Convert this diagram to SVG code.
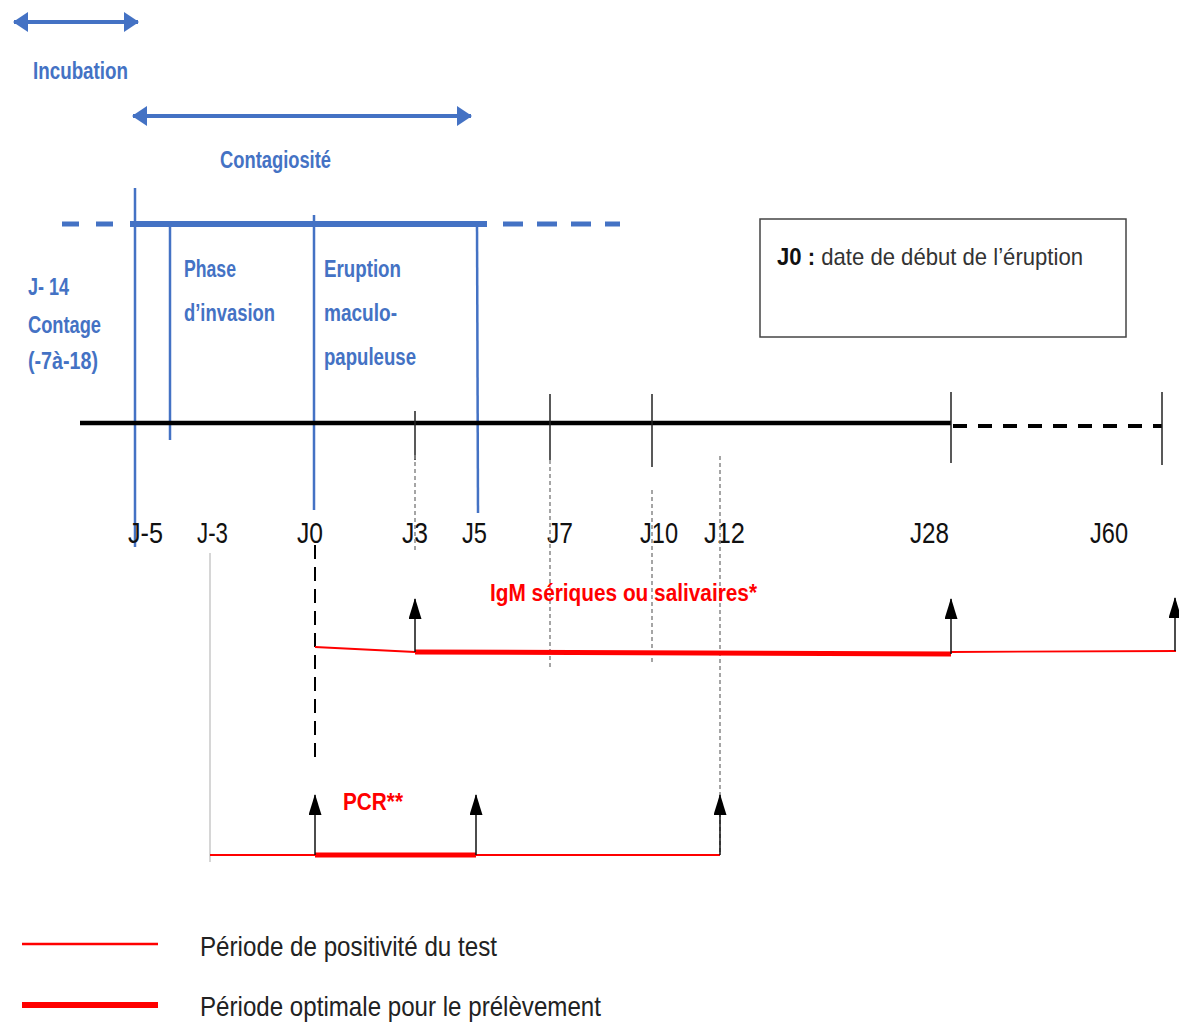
<svg xmlns="http://www.w3.org/2000/svg" width="1179" height="1025" viewBox="0 0 1179 1025">
<defs>
<style>
.blue{fill:#4472C4;font-family:"Liberation Sans",Arial,sans-serif;font-weight:bold;font-size:23px}
.ax{fill:#111;font-family:"Liberation Sans",Arial,sans-serif;font-size:30px}
.red{fill:#FF0000;font-family:"Liberation Sans",Arial,sans-serif;font-weight:bold;font-size:23px}
.leg{fill:#222;font-family:"Liberation Sans",Arial,sans-serif;font-size:28px}
.box{fill:#333;font-family:"Liberation Sans",Arial,sans-serif;font-size:24px}
.bl{stroke:#4472C4;fill:none}
.tick{stroke:#222;stroke-width:1.5}
.gd{stroke:#888;stroke-width:1.5;stroke-dasharray:4 3}
.arr{stroke:#111;stroke-width:1.5}
</style>
<marker id="bh" markerUnits="userSpaceOnUse" markerWidth="15" markerHeight="20" refX="14" refY="10" orient="auto-start-reverse" viewBox="0 0 15 20">
<path d="M0,0 L15,10 L0,20 Z" fill="#4472C4"/>
</marker>
<marker id="kh" markerUnits="userSpaceOnUse" markerWidth="21" markerHeight="13" refX="20" refY="6.5" orient="auto" viewBox="0 0 21 13">
<path d="M0,0 L21,6.5 L0,13 Z" fill="#000"/>
</marker>
</defs>

<g id="incubation">
<line class="bl" x1="14" y1="22" x2="138" y2="22" stroke-width="4" marker-start="url(#bh)" marker-end="url(#bh)"/>
<text class="blue" x="33" y="79" textLength="95" lengthAdjust="spacingAndGlyphs">Incubation</text>
</g>

<g id="contagiosite">
<line class="bl" x1="133" y1="116" x2="471" y2="116" stroke-width="4" marker-start="url(#bh)" marker-end="url(#bh)"/>
<text class="blue" x="220" y="168" textLength="111" lengthAdjust="spacingAndGlyphs">Contagiosité</text>
</g>

<g id="phases">
<line class="bl" x1="62" y1="224" x2="118" y2="224" stroke-width="5" stroke-dasharray="17 17"/>
<line class="bl" x1="130" y1="224" x2="487" y2="224" stroke-width="6"/>
<line class="bl" x1="503" y1="224" x2="620" y2="224" stroke-width="5" stroke-dasharray="20 14"/>
<line class="bl" x1="135" y1="188" x2="135" y2="547" stroke-width="2.5"/>
<line class="bl" x1="170" y1="222" x2="170" y2="440" stroke-width="2.5"/>
<line class="bl" x1="314" y1="215" x2="314" y2="510" stroke-width="2.5"/>
<line class="bl" x1="477" y1="222" x2="478" y2="513" stroke-width="2.5"/>
</g>

<g id="contage">
<text class="blue" x="28" y="295" textLength="41" lengthAdjust="spacingAndGlyphs">J- 14</text>
<text class="blue" x="28" y="333" textLength="73" lengthAdjust="spacingAndGlyphs">Contage</text>
<text class="blue" x="28" y="369" textLength="70" lengthAdjust="spacingAndGlyphs">(-7à-18)</text>
</g>

<g id="invasion">
<text class="blue" x="184" y="277" textLength="52" lengthAdjust="spacingAndGlyphs">Phase</text>
<text class="blue" x="184" y="321" textLength="91" lengthAdjust="spacingAndGlyphs">d’invasion</text>
</g>

<g id="eruption">
<text class="blue" x="324" y="277" textLength="77" lengthAdjust="spacingAndGlyphs">Eruption</text>
<text class="blue" x="324" y="321" textLength="73" lengthAdjust="spacingAndGlyphs">maculo-</text>
<text class="blue" x="324" y="365" textLength="92" lengthAdjust="spacingAndGlyphs">papuleuse</text>
</g>

<g id="legend-box">
<rect x="760" y="219" width="366" height="118" fill="#fff" stroke="#444" stroke-width="1.5"/>
<text class="box" x="777" y="265" textLength="306" lengthAdjust="spacingAndGlyphs"><tspan font-weight="bold" fill="#111">J0 :</tspan> date de début de l’éruption</text>
</g>

<g id="axis">
<line x1="80" y1="423" x2="951" y2="423" stroke="#000" stroke-width="4.5"/>
<line x1="953" y1="426" x2="1162" y2="426" stroke="#000" stroke-width="4" stroke-dasharray="14 11"/>
<line class="tick" x1="415" y1="411" x2="415" y2="460"/>
<line class="tick" x1="550" y1="394" x2="550" y2="460"/>
<line class="tick" x1="652" y1="394" x2="652" y2="467"/>
<line class="tick" x1="951" y1="392" x2="951" y2="463"/>
<line class="tick" x1="1162" y1="392" x2="1162" y2="465"/>
<text class="ax" x="128" y="543" textLength="35" lengthAdjust="spacingAndGlyphs">J-5</text>
<text class="ax" x="197" y="543" textLength="31" lengthAdjust="spacingAndGlyphs">J-3</text>
<text class="ax" x="297" y="543" textLength="26" lengthAdjust="spacingAndGlyphs">J0</text>
<text class="ax" x="402" y="543" textLength="26" lengthAdjust="spacingAndGlyphs">J3</text>
<text class="ax" x="462" y="543" textLength="25" lengthAdjust="spacingAndGlyphs">J5</text>
<text class="ax" x="547" y="543" textLength="26" lengthAdjust="spacingAndGlyphs">J7</text>
<text class="ax" x="640" y="543" textLength="38" lengthAdjust="spacingAndGlyphs">J10</text>
<text class="ax" x="704" y="543" textLength="41" lengthAdjust="spacingAndGlyphs">J12</text>
<text class="ax" x="910" y="543" textLength="39" lengthAdjust="spacingAndGlyphs">J28</text>
<text class="ax" x="1090" y="543" textLength="38" lengthAdjust="spacingAndGlyphs">J60</text>
</g>

<g id="guides">
<line class="gd" x1="415" y1="455" x2="415" y2="553"/>
<line class="gd" x1="550" y1="460" x2="550" y2="668"/>
<line class="gd" x1="652" y1="490" x2="652" y2="662"/>
<line class="gd" x1="720" y1="456" x2="720" y2="855"/>
<line x1="210" y1="553" x2="210" y2="862" stroke="#bbb" stroke-width="1.2"/>
<line x1="315" y1="545" x2="315" y2="758" stroke="#000" stroke-width="2" stroke-dasharray="14 8"/>
</g>

<g id="igm">
<polyline points="315,647 415,652" fill="none" stroke="#FF0000" stroke-width="1.8"/>
<line x1="415" y1="652" x2="951" y2="654" stroke="#FF0000" stroke-width="5"/>
<line x1="951" y1="652" x2="1176" y2="651" stroke="#FF0000" stroke-width="1.8"/>
<text class="red" x="490" y="601" textLength="267" lengthAdjust="spacingAndGlyphs">IgM sériques ou salivaires*</text>
</g>

<g id="pcr">
<line x1="210" y1="855" x2="720" y2="855" stroke="#FF0000" stroke-width="1.8"/>
<line x1="315" y1="855" x2="476" y2="855" stroke="#FF0000" stroke-width="5"/>
<text class="red" x="343" y="810" textLength="60" lengthAdjust="spacingAndGlyphs">PCR**</text>
</g>

<g id="connectors">
<line class="arr" x1="415" y1="652" x2="415" y2="599" marker-end="url(#kh)"/>
<line class="arr" x1="951" y1="654" x2="951" y2="599" marker-end="url(#kh)"/>
<line class="arr" x1="1175" y1="651" x2="1175" y2="598" marker-end="url(#kh)"/>
<line class="arr" x1="315" y1="855" x2="315" y2="795" marker-end="url(#kh)"/>
<line class="arr" x1="476" y1="855" x2="476" y2="795" marker-end="url(#kh)"/>
<line class="arr" x1="720" y1="855" x2="720" y2="795" marker-end="url(#kh)"/>
</g>

<g id="legend">
<line x1="22" y1="944" x2="158" y2="944" stroke="#FF0000" stroke-width="2.5"/>
<line x1="22" y1="1005" x2="158" y2="1005" stroke="#FF0000" stroke-width="6"/>
<text class="leg" x="200" y="956" textLength="297" lengthAdjust="spacingAndGlyphs">Période de positivité du test</text>
<text class="leg" x="200" y="1016" textLength="401" lengthAdjust="spacingAndGlyphs">Période optimale pour le prélèvement</text>
</g>
</svg>
